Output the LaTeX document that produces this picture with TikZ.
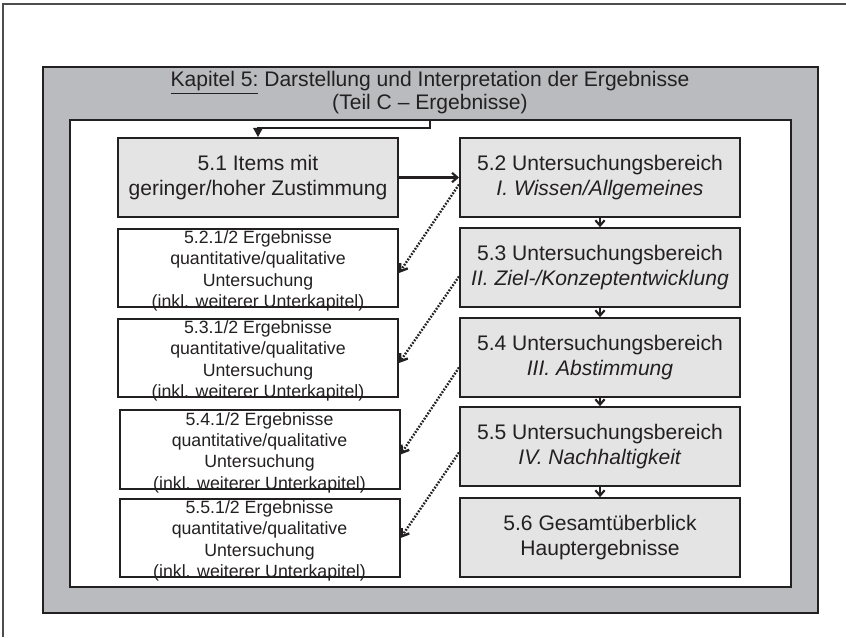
\documentclass[tikz,border=0pt]{standalone}
\usepackage{fontspec}
\setmainfont{Liberation Sans}
\usetikzlibrary{arrows.meta,calc}

\definecolor{framegray}{RGB}{186,187,191}
\definecolor{boxgray}{RGB}{228,228,228}
\definecolor{ink}{RGB}{35,32,33}

\begin{document}
\begin{tikzpicture}[x=0.75pt,y=-0.75pt,line width=1.5pt,
  mainbox/.style={draw=ink,fill=boxgray,minimum width=210pt,minimum height=59pt,
    inner sep=0pt,align=center,text=ink,font=\fontsize{15.8}{18.5}\selectfont},
  subbox/.style={draw=ink,fill=white,minimum width=210pt,minimum height=59pt,inner sep=0pt},
  subtext/.style={anchor=north,inner sep=0pt,align=center,text=ink,
    font=\fontsize{13.3}{16}\selectfont},
  flow/.style={draw=ink,line width=1.6pt,-{Straight Barb[length=4pt,width=7pt]}},
  link/.style={draw=ink,line width=1.8pt,dash pattern=on 1.3pt off 1.1pt,
    -{Straight Barb[length=5pt,width=7pt]}}]
\useasboundingbox (0,0) rectangle (846,637);

% frames
\draw[ink!80,line width=1.2pt] (3,637) -- (3,4) -- (846,4);
\draw[fill=framegray,draw=ink] (43,67) rectangle (818,613);
\draw[fill=white,draw=ink] (70,120) rectangle (791,587);

\node[align=center,text=ink,font=\fontsize{15.8}{17.25}\selectfont] (title) at (430,93)
  {\underline{Kapitel 5:} Darstellung und Interpretation der Ergebnisse\\(Teil C -- Ergebnisse)};

% right column
\node[mainbox] (b51) at (258,177.5) {5.1 Items mit\\geringer/hoher Zustimmung};
\node[mainbox] (b52) at (600,177.5) {5.2 Untersuchungsbereich\\\textit{I. Wissen/Allgemeines}};
\node[mainbox] (b53) at (600,267.5) {5.3 Untersuchungsbereich\\\textit{II. Ziel-/Konzeptentwicklung}};
\node[mainbox] (b54) at (600,357.5) {5.4 Untersuchungsbereich\\\textit{III. Abstimmung}};
\node[mainbox] (b55) at (600,446.5) {5.5 Untersuchungsbereich\\\textit{IV. Nachhaltigkeit}};
\node[mainbox] (b56) at (600,537.5) {5.6 Gesamtüberblick\\Hauptergebnisse};

% left column
\node[subbox] (s52) at (258,268) {};
\node[subbox] (s53) at (258,358) {};
\node[subbox] (s54) at (259.5,449.5) {};
\node[subbox] (s55) at (259.5,538) {};
\node[subtext] (t52) at ($(s52.north)+(0,2)$) {5.2.1/2 Ergebnisse\\quantitative/qualitative\\Untersuchung\\(inkl. weiterer Unterkapitel)};
\node[subtext] (t53) at ($(s53.north)+(0,2)$) {5.3.1/2 Ergebnisse\\quantitative/qualitative\\Untersuchung\\(inkl. weiterer Unterkapitel)};
\node[subtext] (t54) at ($(s54.north)+(0,2)$) {5.4.1/2 Ergebnisse\\quantitative/qualitative\\Untersuchung\\(inkl. weiterer Unterkapitel)};
\node[subtext] (t55) at ($(s55.north)+(0,2)$) {5.5.1/2 Ergebnisse\\quantitative/qualitative\\Untersuchung\\(inkl. weiterer Unterkapitel)};

% arrows
\coordinate (tstart) at (430,120);
\draw[draw=ink,line width=2pt,-{Triangle[length=7pt,width=7pt]}] (tstart) -- ++(0,8) -| (b51.north);
\draw[flow] (b51) -- (b52);
\draw[flow] (b52) -- (b53);
\draw[flow] (b53) -- (b54);
\draw[flow] (b54) -- (b55);
\draw[flow] (b55) -- (b56);
\draw[link] ($(b52.west)+(0,7)$) -- ($(s52.east)+(0,5)$);
\draw[link] ($(b53.west)+(0,9)$) -- ($(s53.east)+(0,5)$);
\draw[link] ($(b54.west)+(0,10)$) -- ($(s54.east)+(0,5)$);
\draw[link] ($(b55.west)+(0,6)$) -- ($(s55.east)+(0,0)$);
\end{tikzpicture}
\end{document}
